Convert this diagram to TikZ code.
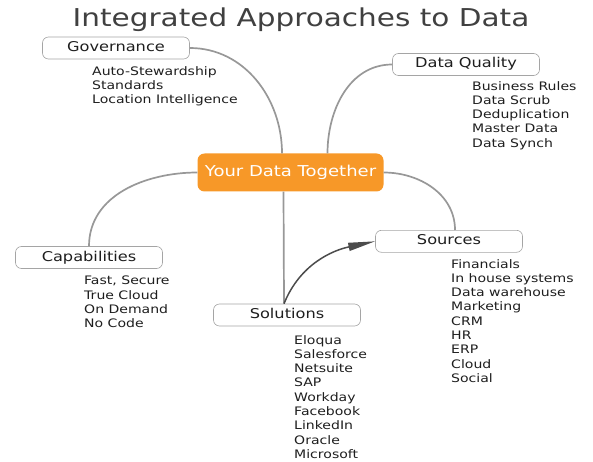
\documentclass[tikz,border=0pt]{standalone}
\usepackage{fontspec}
\setmainfont{DejaVu Sans}[FakeStretch=1.2]
\usepackage{tikz}
\usetikzlibrary{arrows.meta}
\definecolor{hubOrange}{RGB}{247,152,40}
\definecolor{linkGray}{RGB}{152,152,152}
\definecolor{boxGray}{RGB}{165,165,165}
\definecolor{textDark}{RGB}{30,30,30}

\begin{document}
\begin{tikzpicture}[x=1pt, y=1pt,
	topic/.style={draw=boxGray, line width=0.6pt, fill=white, rounded corners=6pt, minimum width=147pt, minimum height=22pt, inner sep=0pt, text height=10pt, text depth=3pt, font=\fontsize{13.5}{16}\selectfont, text=textDark},
	items/.style={anchor=north west, align=left, inner sep=0pt, font=\fontsize{11.7}{14.3}\selectfont, text=textDark},
	link/.style={draw=linkGray, line width=1.7pt}]
	\useasboundingbox (0,0) rectangle (593,-462);
	\node[anchor=base, font=\fontsize{24.6}{28}\selectfont, text=black!75] (title) at (301,-26.7) {Integrated Approaches to Data};
	% the hub
	\node[fill=hubOrange, rounded corners=7pt, minimum width=186pt, minimum height=38pt, inner sep=0pt, text=white, font=\fontsize{15}{18}\selectfont] (hub) at (290.5,-172.5) {Your Data Together};
	% topics
	\node[topic] (gov) at (116,-48) {Governance};
	\node[topic] (qual) at (466,-64.5) {Data Quality};
	\node[topic] (cap) at (89,-257.5) {Capabilities};
	\node[topic] (sol) at (287,-315) {Solutions};
	\node[topic] (src) at (449,-241.3) {Sources};
	% connectors
	\draw[link] (gov.east) to[out=0, in=90] ([xshift=-8.5pt]hub.north);
	\draw[link] (qual.west) to[out=180, in=90] ([xshift=37pt]hub.north);
	\draw[link] (hub.west) to[out=180, in=90] (cap.north);
	\draw[link] (hub.east) to[out=0, in=90] ([xshift=6pt]src.north);
	\draw[link] ([xshift=-7pt]hub.south) -- ([xshift=-3pt]sol.north);
	\draw[draw=black!70, line width=1.5pt, -{Triangle[length=27pt, width=8pt]}] ([xshift=-3pt]sol.north) to[out=68, in=192] (src.west);
	% item lists
	\node[items] (govlist) at (92,-66) {Auto-Stewardship\\Standards\\Location Intelligence};
	\node[items] (quallist) at (472,-81) {Business Rules\\Data Scrub\\Deduplication\\Master Data\\Data Synch};
	\node[items] (caplist) at (84,-276) {Fast, Secure\\True Cloud\\On Demand\\No Code};
	\node[items] (sollist) at (294,-335) {Eloqua\\Salesforce\\Netsuite\\SAP\\Workday\\Facebook\\LinkedIn\\Oracle\\Microsoft};
	\node[items] (srclist) at (451,-259) {Financials\\In house systems\\Data warehouse\\Marketing\\CRM\\HR\\ERP\\Cloud\\Social};
\end{tikzpicture}
\end{document}
